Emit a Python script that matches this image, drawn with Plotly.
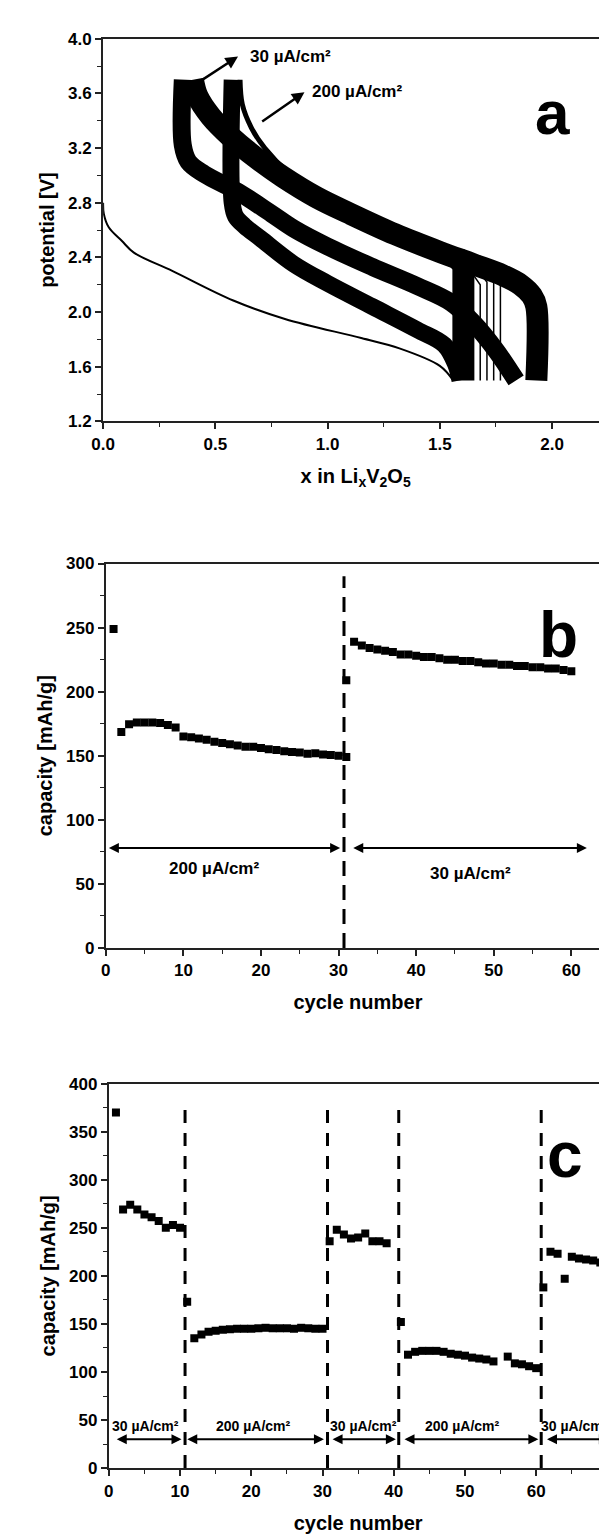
import plotly.graph_objects as go

# ---------------- panel a : potential vs x in LixV2O5 ----------------
# first discharge (thin line)
first_x = [0.0, 0.003, 0.025, 0.084, 0.137, 0.31, 0.58, 0.81, 1.15, 1.32, 1.50, 1.56]
first_y = [2.80, 2.72, 2.62, 2.52, 2.435, 2.30, 2.085, 1.95, 1.81, 1.735, 1.607, 1.50]

# 30 uA/cm2 charge band (upper band)
chg30_x = [1.93, 1.93, 1.91, 1.86, 1.78, 1.65, 1.50, 1.30, 1.10, 0.95, 0.80, 0.68, 0.57, 0.48, 0.42, 0.40]
chg30_y = [1.50, 2.04, 2.12, 2.20, 2.27, 2.35, 2.44, 2.57, 2.72, 2.84, 2.99, 3.13, 3.28, 3.43, 3.58, 3.70]

# 30 uA/cm2 discharge band (left block + middle band)
dis30_x = [0.355, 0.355, 0.38, 0.45, 0.60, 0.75, 0.85, 1.00, 1.20, 1.40, 1.55, 1.65, 1.75, 1.84]
dis30_y = [3.70, 3.22, 3.10, 3.01, 2.88, 2.72, 2.61, 2.48, 2.33, 2.19, 2.07, 1.92, 1.72, 1.50]

# 200 uA/cm2 discharge band (lower band)
dis200_x = [0.575, 0.575, 0.59, 0.63, 0.70, 0.85, 1.00, 1.20, 1.40, 1.52, 1.57, 1.59]
dis200_y = [3.70, 2.80, 2.70, 2.63, 2.54, 2.35, 2.21, 2.04, 1.87, 1.76, 1.62, 1.50]

# 200 uA/cm2 charge: rise at the right and thin top tail
rise200_x = [1.605, 1.605, 1.57]
rise200_y = [1.50, 2.34, 2.41]
chg200_x = [1.56, 1.45, 1.30, 1.10, 0.95, 0.82, 0.72, 0.66, 0.62, 0.61]
chg200_y = [2.42, 2.49, 2.60, 2.76, 2.88, 3.03, 3.20, 3.35, 3.52, 3.70]

# single cycles ending between the bundles
thin_x = [1.68, 1.68, 1.65, None, 1.71, 1.71, 1.68, None, 1.74, 1.74, 1.71, None, 1.77, 1.77, 1.74]
thin_y = [1.50, 2.20, 2.27, None, 1.50, 2.22, 2.28, None, 1.50, 2.24, 2.29, None, 1.50, 2.25, 2.30]

# ---------------- panel b : capacity vs cycle ----------------
b_cyc1 = list(range(1, 32))
b_cap1 = [249, 168.5, 174.5, 176, 176, 176, 175.5, 174, 172, 165, 164.5, 163.5, 162.5, 161, 160, 159,
          158, 157, 157, 156, 155, 154.5, 153.5, 153, 152.5, 151.5, 152, 151, 150.5, 150, 149]
b_cyc2 = [31] + list(range(32, 61))
b_cap2 = [209, 239, 236, 234, 233, 232, 231, 229, 229, 228, 227, 227, 226, 225, 225, 224, 224, 223, 222,
          222, 221, 221, 220, 220, 219, 219, 218, 218, 217, 216]
b_switch = [30.7]

# ---------------- panel c : capacity vs cycle ----------------
c_cyc = list(range(1, 40)) + list(range(41, 55)) + list(range(56, 71))
c_cap = [370, 269, 274, 269, 264, 261, 257, 250, 253, 250,
         173, 135, 139, 142, 143, 144, 144.5, 145, 145, 145, 145.5, 146, 145.5, 145.5, 145.5, 145, 146, 145.5, 145, 145,
         236, 248, 243, 239, 240, 244, 236, 236, 234,
         152, 118, 121, 122, 122, 122, 121, 119, 118, 117, 115, 114, 113, 111,
         116, 109, 108, 106, 104,
         188, 225, 223, 197, 220, 218, 217, 216, 214, 211]
c_switch = [10.7, 30.7, 40.7, 60.7]

c_labels = ["30 \u00b5A/cm\u00b2", "200 \u00b5A/cm\u00b2", "30 \u00b5A/cm\u00b2", "200 \u00b5A/cm\u00b2", "30 \u00b5A/cm\u00b2"]
c_label_x = [5.2, 20.3, 35.7, 49.7, 65.4]
c_arrow_from = [0.9, 10.8, 31.2, 41.3, 61.3]
c_arrow_to = [10.2, 30.2, 40.3, 60.3, 70.2]

FONT = "Liberation Sans, Arial, sans-serif"
INK = "black"

fig = go.Figure()


def curve(x, y, width, shape="spline"):
    fig.add_trace(go.Scatter(x=x, y=y, mode="lines", line=dict(color=INK, width=width, shape=shape),
                             xaxis="x", yaxis="y", showlegend=False, hoverinfo="skip"))


# panel a traces
curve(first_x, first_y, 2)
curve(chg30_x, chg30_y, 22)
curve(dis30_x, dis30_y, 18)
curve(dis200_x, dis200_y, 17)
curve(rise200_x, rise200_y, 22, "linear")
curve(chg200_x, chg200_y, 5)
curve(thin_x, thin_y, 1.5, "linear")

# panel b traces
fig.add_trace(go.Scatter(x=b_cyc1 + b_cyc2, y=b_cap1 + b_cap2, mode="markers",
                         marker=dict(symbol="square", size=8, color=INK),
                         xaxis="x2", yaxis="y2", showlegend=False))

# panel c traces
fig.add_trace(go.Scatter(x=c_cyc, y=c_cap, mode="markers",
                         marker=dict(symbol="square", size=8, color=INK),
                         xaxis="x3", yaxis="y3", showlegend=False))

shapes = []
for xv in b_switch:
    shapes.append(dict(type="line", xref="x2", yref="y2", x0=xv, x1=xv, y0=0, y1=290,
                       line=dict(color=INK, width=3, dash="15px,9px")))
for xv in c_switch:
    shapes.append(dict(type="line", xref="x3", yref="y3", x0=xv, x1=xv, y0=0, y1=373,
                       line=dict(color=INK, width=3, dash="13px,10px")))

ann = []
bold = dict(family=FONT, color=INK, weight="bold")

# panel a labels
ann.append(dict(xref="x", yref="y", x=0.601, y=3.87, ax=0.399, ay=3.653, axref="x", ayref="y",
                text="", showarrow=True, arrowhead=2, arrowsize=1, arrowwidth=2.5, arrowcolor=INK))
ann.append(dict(xref="x", yref="y", x=0.644, y=3.87, text="30 \u00b5A/cm\u00b2", showarrow=False,
                xanchor="left", font=dict(size=17, **bold)))
ann.append(dict(xref="x", yref="y", x=0.897, y=3.609, ax=0.702, ay=3.387, axref="x", ayref="y",
                text="", showarrow=True, arrowhead=2, arrowsize=1, arrowwidth=2.5, arrowcolor=INK))
ann.append(dict(xref="x", yref="y", x=0.922, y=3.61, text="200 \u00b5A/cm\u00b2", showarrow=False,
                xanchor="left", font=dict(size=17, **bold)))
ann.append(dict(xref="x domain", yref="y domain", x=0.928, y=0.902, text="a", showarrow=False,
                font=dict(size=62, **bold)))

# panel b labels
ann.append(dict(xref="x2", yref="y2", x=30.2, y=78, ax=0.2, ay=78, axref="x2", ayref="y2",
                text="", showarrow=True, arrowhead=2, arrowside="end+start", arrowsize=1,
                arrowwidth=2, arrowcolor=INK))
ann.append(dict(xref="x2", yref="y2", x=62, y=78, ax=31.7, ay=78, axref="x2", ayref="y2",
                text="", showarrow=True, arrowhead=2, arrowside="end+start", arrowsize=1,
                arrowwidth=2, arrowcolor=INK))
ann.append(dict(xref="x2", yref="y2", x=13.9, y=62, text="200 \u00b5A/cm\u00b2", showarrow=False,
                font=dict(size=17, **bold)))
ann.append(dict(xref="x2", yref="y2", x=47, y=58.5, text="30 \u00b5A/cm\u00b2", showarrow=False,
                font=dict(size=17, **bold)))
ann.append(dict(xref="x2 domain", yref="y2 domain", x=0.94, y=0.914, text="b", showarrow=False,
                font=dict(size=64, **bold)))

# panel c labels
for lab, lx, a0, a1 in zip(c_labels, c_label_x, c_arrow_from, c_arrow_to):
    ann.append(dict(xref="x3", yref="y3", x=a1, y=30, ax=a0, ay=30, axref="x3", ayref="y3",
                    text="", showarrow=True, arrowhead=2, arrowside="end+start", arrowsize=1,
                    arrowwidth=2, arrowcolor=INK))
    ann.append(dict(xref="x3", yref="y3", x=lx, y=44, text=lab, showarrow=False,
                    font=dict(size=14, **bold)))
ann.append(dict(xref="x3 domain", yref="y3 domain", x=0.954, y=0.914, text="c", showarrow=False,
                font=dict(size=64, **bold)))


def ax_style(**kw):
    d = dict(showline=True, linecolor="#222", linewidth=2, mirror=True, showgrid=False, zeroline=False,
             ticks="outside", ticklen=6, tickwidth=1.5, tickcolor="#222",
             tickfont=dict(family=FONT, size=17, color=INK, weight="bold"),
             title_font=dict(family=FONT, size=20, color=INK, weight="bold"),
             minor=dict(ticks="outside", ticklen=4, tickwidth=1.2, tickcolor="#222"))
    d.update(kw)
    return d


fig.update_layout(
    width=607, height=1535, margin=dict(l=0, r=0, t=0, b=0),
    paper_bgcolor="white", plot_bgcolor="white",
    xaxis=ax_style(domain=[0.1397, 0.9885], anchor="y", range=[0, 2.25], dtick=0.5, tick0=0,
                   tickformat=".1f", minor_dtick=0.25,
                   title=dict(text="x in Li<sub>x</sub>V<sub>2</sub>O<sub>5</sub>", standoff=16)),
    yaxis=ax_style(domain=[0.7332, 0.9857], anchor="x", range=[1.2, 4.0], dtick=0.4, tick0=1.2,
                   tickformat=".1f", minor_dtick=0.2,
                   title=dict(text="potential [V]", standoff=8)),
    xaxis2=ax_style(domain=[0.1442, 0.9918], anchor="y2", range=[0, 65], dtick=10, minor_dtick=5,
                    title=dict(text="cycle number", standoff=16)),
    yaxis2=ax_style(domain=[0.3859, 0.6395], anchor="x2", range=[0, 300], dtick=50, minor_dtick=25,
                    title=dict(text="capacity [mAh/g]", standoff=8)),
    xaxis3=ax_style(domain=[0.1493, 0.9873], anchor="y3", range=[0, 70], dtick=10, minor_dtick=5,
                    title=dict(text="cycle number", standoff=16)),
    yaxis3=ax_style(domain=[0.0428, 0.2964], anchor="x3", range=[0, 400], dtick=50, minor_dtick=25,
                    title=dict(text="capacity [mAh/g]", standoff=8)),
    shapes=shapes,
    annotations=ann,
)

fig.write_html("out.html")
